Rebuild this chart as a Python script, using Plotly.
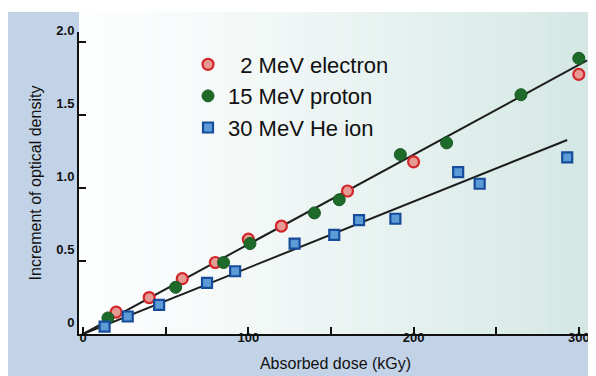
import plotly.graph_objects as go

# ---- data ----
electron_x = [20, 40, 60, 80, 100, 120, 160, 200, 300]
electron_y = [0.15, 0.25, 0.38, 0.49, 0.65, 0.74, 0.98, 1.18, 1.78]

proton_x = [15, 56, 85, 101, 140, 155, 192, 220, 265, 300]
proton_y = [0.11, 0.32, 0.49, 0.62, 0.83, 0.92, 1.23, 1.31, 1.64, 1.89]

he_x = [13, 27, 46, 75, 92, 128, 152, 167, 189, 227, 240, 293]
he_y = [0.05, 0.12, 0.20, 0.35, 0.43, 0.62, 0.68, 0.78, 0.79, 1.11, 1.03, 1.21]

fit1_x = [0, 305]
fit1_y = [0, 1.875]
fit2_x = [0, 293]
fit2_y = [0, 1.33]

x_tickvals = [0, 50, 100, 150, 200, 250, 300]
x_ticktext = ["0", "", "100", "", "200", "", "300"]
y_tickvals = [0, 0.5, 1.0, 1.5, 2.0]
y_ticktext = ["0", "0.5", "1.0", "1.5", "2.0"]

names = ["\u00a0\u00a02 MeV electron", "15 MeV proton", "30 MeV He ion"]

FONT = "Liberation Sans, Arial, sans-serif"

fig = go.Figure()

fig.add_trace(go.Scatter(x=fit1_x, y=fit1_y, mode="lines",
                         line=dict(color="#1e1e1e", width=2), showlegend=False,
                         hoverinfo="skip"))
fig.add_trace(go.Scatter(x=fit2_x, y=fit2_y, mode="lines",
                         line=dict(color="#1e1e1e", width=2), showlegend=False,
                         hoverinfo="skip"))

fig.add_trace(go.Scatter(x=electron_x, y=electron_y, mode="markers", name=names[0],
                         marker=dict(symbol="circle", size=11, color="#e59a92",
                                     line=dict(color="#d3262b", width=2.2))))
fig.add_trace(go.Scatter(x=proton_x, y=proton_y, mode="markers", name=names[1],
                         marker=dict(symbol="circle", size=12, color="#1d6a2a",
                                     line=dict(color="#175a22", width=1))))
fig.add_trace(go.Scatter(x=he_x, y=he_y, mode="markers", name=names[2],
                         marker=dict(symbol="square", size=10, color="#5b9bd6",
                                     line=dict(color="#174b9b", width=2.2))))

# ---- background panels (paper coordinates) ----
shapes = []
shapes.append(dict(type="rect", xref="paper", yref="paper",
                   x0=-0.1384, x1=1.0078, y0=-0.14, y1=1.066,
                   fillcolor="rgb(194,211,231)", line=dict(width=0), layer="below"))
n = 32
c0 = (253, 254, 254)
c1 = (211, 231, 227)
x_start, x_end = 0.0, 1.0078
for i in range(n):
    t = (i + 0.5) / n
    tt = t ** 1.25
    col = tuple(round(c0[k] + (c1[k] - c0[k]) * tt) for k in range(3))
    xa = x_start + (x_end - x_start) * i / n
    xb = x_start + (x_end - x_start) * (i + 1) / n + 0.002
    shapes.append(dict(type="rect", xref="paper", yref="paper",
                       x0=xa, x1=min(xb, x_end), y0=0.0, y1=1.066,
                       fillcolor="rgb(%d,%d,%d)" % col, line=dict(width=0),
                       layer="below"))

# the page adds an 8px body margin, so the figure is 8px smaller each way
fig.update_layout(
    width=588, height=368,
    margin=dict(l=71, r=4, t=24, b=42, autoexpand=False),
    paper_bgcolor="white",
    plot_bgcolor="rgba(0,0,0,0)",
    shapes=shapes,
    font=dict(family=FONT, color="#111111"),
    showlegend=True,
    legend=dict(x=0.2125, y=0.962, xanchor="left", yanchor="top",
                bgcolor="rgba(0,0,0,0)", borderwidth=0,
                font=dict(family=FONT, size=22, color="#111111")),
    xaxis=dict(range=[-2.5, 308], showgrid=False, zeroline=False, automargin=False,
               showline=True, linecolor="#111111", linewidth=2,
               ticks="inside", ticklen=7, tickwidth=1.5, tickcolor="#111111",
               tickvals=x_tickvals, ticktext=x_ticktext,
               tickfont=dict(family=FONT, size=13, weight="bold", color="#111111"),
               ticklabelstandoff=-10,
               title=dict(text="Absorbed dose (kGy)", standoff=14,
                          font=dict(family=FONT, size=16, color="#111111"))),
    yaxis=dict(range=[0, 2.07], showgrid=False, zeroline=False, automargin=False,
               showline=True, linecolor="#111111", linewidth=2,
               ticks="inside", ticklen=7, tickwidth=1.5, tickcolor="#111111",
               tickvals=y_tickvals, ticktext=y_ticktext,
               tickfont=dict(family=FONT, size=13, weight="bold", color="#111111"),
               ticklabelshift=-12, ticklabelstandoff=0,
               title=dict(text="Increment of optical density", standoff=11,
                          font=dict(family=FONT, size=16, color="#111111"))),
)

fig.write_html("out.html")
